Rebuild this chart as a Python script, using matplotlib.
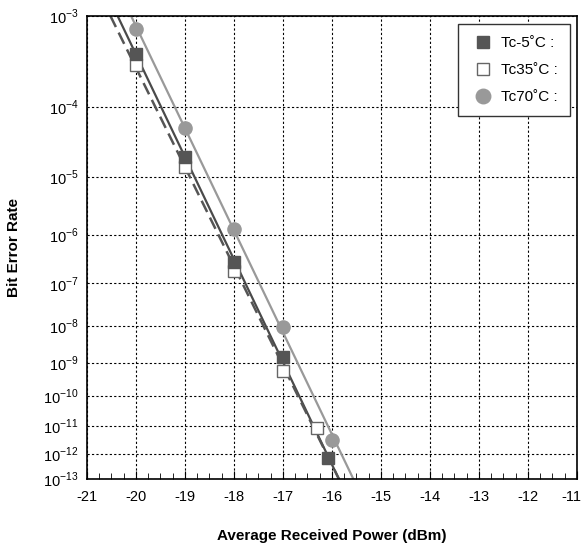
import numpy as np
from matplotlib import pyplot as plt
from matplotlib import transforms
from matplotlib.ticker import FixedLocator, MultipleLocator

OUTPUT_FILE = "out.png"

# measured points (power in dBm, BER)
x_m5 = [-20, -19, -18, -17, -16.09]
ber_m5 = [4.1e-4, 2.0e-5, 2.9e-7, 1.45e-9, 7e-13]

x_35 = [-20, -19, -18, -17, -16.31]
ber_35 = [3.1e-4, 1.46e-5, 1.9e-7, 5.8e-10, 9e-12]

x_70 = [-20, -19, -18, -17, -15.99]
ber_70 = [7.5e-4, 5.3e-5, 1.28e-6, 9.1e-9, 3.2e-12]

labels = ["Tc-5˚C :", "Tc35˚C :", "Tc70˚C :"]
yticks = [10.0 ** -k for k in range(3, 14)]
ytick_labels = ["10$^{\\mathregular{-%d}}$" % k for k in range(3, 14)]


# BER scale: -log10(-log10(BER)), straight lines for BER curves
def ber_fwd(y):
    y = np.clip(np.asarray(y, dtype=float), 1e-300, 1 - 1e-16)
    return -np.log10(-np.log10(y))


def ber_inv(v):
    return 10.0 ** (-(10.0 ** (-np.asarray(v, dtype=float))))


plt.rcParams['font.family'] = ['Liberation Sans', 'DejaVu Sans']
plt.rcParams['mathtext.fontset'] = 'custom'
plt.rcParams['mathtext.rm'] = 'Liberation Sans'
plt.rcParams['axes.unicode_minus'] = False

fig = plt.figure(figsize=(5.85, 5.5), dpi=100)
ax = fig.add_axes([0.1487, 0.129, 0.8376, 0.8425])
ax.set_yscale('function', functions=(ber_fwd, ber_inv))

# fitted lines in the transformed space
xx = np.linspace(-21, -15, 50)
p = np.polyfit(x_m5, ber_fwd(ber_m5), 1)
ax.plot(xx, ber_inv(np.polyval(p, xx)), color="#4a4a4a", lw=1.6, zorder=2)
p = np.polyfit(x_35, ber_fwd(ber_35), 1)
ax.plot(xx, ber_inv(np.polyval(p, xx)), color="#555555", lw=1.8, ls=(0, (5, 2.5)), zorder=2)
p = np.polyfit(x_70, ber_fwd(ber_70), 1)
ax.plot(xx, ber_inv(np.polyval(p, xx)), color="#999999", lw=1.6, zorder=2)

ax.plot(x_35, ber_35, ls='none', marker='s', ms=8, mfc='white', mec='#666666', mew=1.0,
        label=labels[1], zorder=3)
ax.plot(x_m5, ber_m5, ls='none', marker='s', ms=8, mfc='#555555', mec='#555555',
        label=labels[0], zorder=4)
ax.plot(x_70, ber_70, ls='none', marker='o', ms=9.5, mfc='#999999', mec='#999999',
        label=labels[2], zorder=4)

ax.set_xlim(-21, -11)
ax.set_ylim(1e-13, 1e-3)
ax.set_xticks(np.arange(-21, -10, 1))
ax.xaxis.set_minor_locator(MultipleLocator(0.25))
ax.yaxis.set_major_locator(FixedLocator(yticks))
ax.yaxis.set_minor_locator(FixedLocator([]))
ax.set_yticklabels(ytick_labels)
ax.tick_params(axis='x', which='major', direction='in', length=6, labelsize=10.5, pad=8)
ax.tick_params(axis='x', which='minor', direction='in', length=4)
ax.tick_params(axis='y', which='major', length=0, labelsize=10.5, pad=6)

# keep the last x label inside the figure
last = ax.get_xticklabels()[-1]
last.set_transform(last.get_transform() + transforms.ScaledTranslation(-0.06, 0, fig.dpi_scale_trans))

ax.grid(True, which='major', color='black', ls=(0, (2, 2)), lw=0.8)

for s in ax.spines.values():
    s.set_linewidth(1.2)

ax.set_xlabel("Average Received Power (dBm)", fontsize=11, fontweight='bold', labelpad=18)
ax.set_ylabel("Bit Error Rate", fontsize=11, fontweight='bold', labelpad=16)

h, l = ax.get_legend_handles_labels()
order = [1, 0, 2]
leg = ax.legend([h[i] for i in order], [l[i] for i in order], loc='upper right',
                fontsize=11, fancybox=False, edgecolor='#333333', framealpha=1,
                handletextpad=0.4, borderpad=0.8, labelspacing=0.85, markerscale=1.1,
                handlelength=1.6, borderaxespad=0, bbox_to_anchor=(0.986, 0.982))
leg.get_frame().set_linewidth(1.0)

plt.savefig(OUTPUT_FILE)
